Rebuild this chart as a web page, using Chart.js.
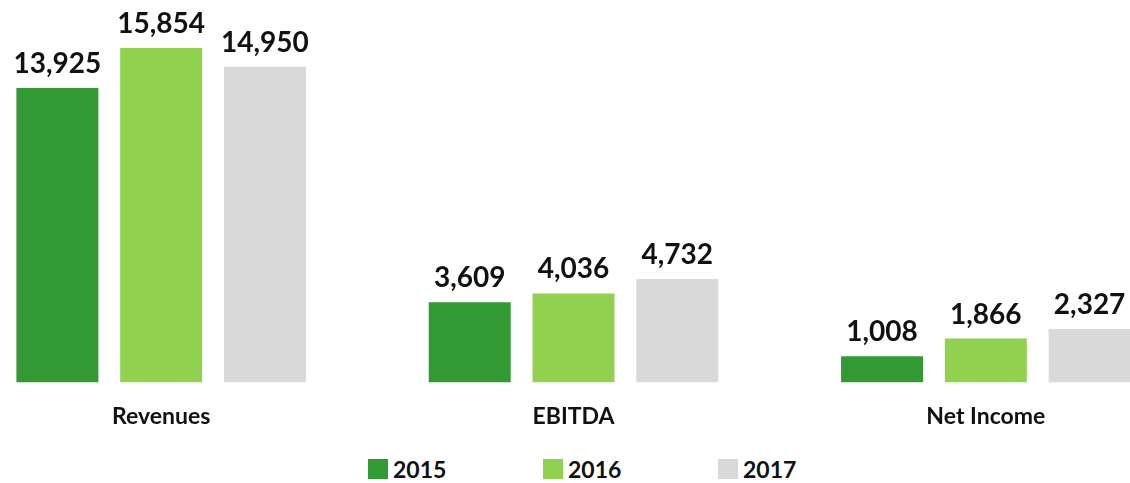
<!DOCTYPE html>
<html>
<head>
<meta charset="utf-8">
<script src="https://cdn.jsdelivr.net/npm/chart.js@4.4.1/dist/chart.umd.min.js"></script>
<style>
  html, body { margin: 0; padding: 0; background: #fff; overflow: hidden; }
  body { width: 1130px; height: 483px; position: relative; font-family: Lato, "Open Sans", sans-serif; }
  #wrap { position: absolute; left: -45px; top: 0; width: 1237px; height: 450px; }
  #legend { position: absolute; left: 368px; top: 458px; display: flex; }
  .item { width: 175px; display: flex; align-items: center; font-weight: bold; font-size: 23px; color: #111; line-height: 22px; }
  .box { width: 20px; height: 20px; margin-right: 5px; }
</style>
</head>
<body>
<div id="wrap"><canvas id="myChart"></canvas></div>
<div id="legend"></div>
<script>
const categories = ['Revenues', 'EBITDA', 'Net Income'];
const years = ['2015', '2016', '2017'];
const values2015 = [13925, 3609, 1008];
const values2016 = [15854, 4036, 1866];
const values2017 = [14950, 4732, 2327];
const colors = ['#339933', '#92d050', '#d9d9d9'];

const yMin = -245;
const yMax = 18165;

const series = [values2015, values2016, values2017];

// value labels above each bar
const barLabels = {
  id: 'barLabels',
  afterDatasetsDraw(chart) {
    const ctx = chart.ctx;
    ctx.save();
    ctx.font = 'bold 28px Lato, "Open Sans", sans-serif';
    ctx.fillStyle = '#111';
    ctx.textAlign = 'center';
    ctx.textBaseline = 'alphabetic';
    chart.data.datasets.forEach((ds, i) => {
      chart.getDatasetMeta(i).data.forEach((bar, j) => {
        ctx.fillText(ds.data[j].toLocaleString('en-US'), bar.x, bar.y - 15);
      });
    });
    ctx.restore();
  }
};

const chart = new Chart(document.getElementById('myChart'), {
  type: 'bar',
  data: {
    labels: categories,
    datasets: series.map((data, i) => ({
      label: years[i],
      data: data,
      backgroundColor: colors[i],
      base: yMin,
      categoryPercentage: 0.755,
      barPercentage: 0.79,
    })),
  },
  options: {
    responsive: true,
    maintainAspectRatio: false,
    animation: false,
    layout: { padding: 0 },
    scales: {
      x: {
        grid: { display: false, drawTicks: false },
        border: { display: false },
        ticks: {
          color: '#111',
          padding: 20,
          font: { family: 'Lato', weight: 'bold', size: 23 },
        },
      },
      y: {
        display: false,
        min: yMin,
        max: yMax,
      },
    },
    plugins: {
      legend: { display: false },
      tooltip: { enabled: false },
    },
  },
  plugins: [barLabels],
});

const legend = document.getElementById('legend');
chart.data.datasets.forEach((ds) => {
  const item = document.createElement('div');
  item.className = 'item';
  const box = document.createElement('span');
  box.className = 'box';
  box.style.background = ds.backgroundColor;
  item.appendChild(box);
  item.appendChild(document.createTextNode(ds.label));
  legend.appendChild(item);
});
</script>
</body>
</html>
